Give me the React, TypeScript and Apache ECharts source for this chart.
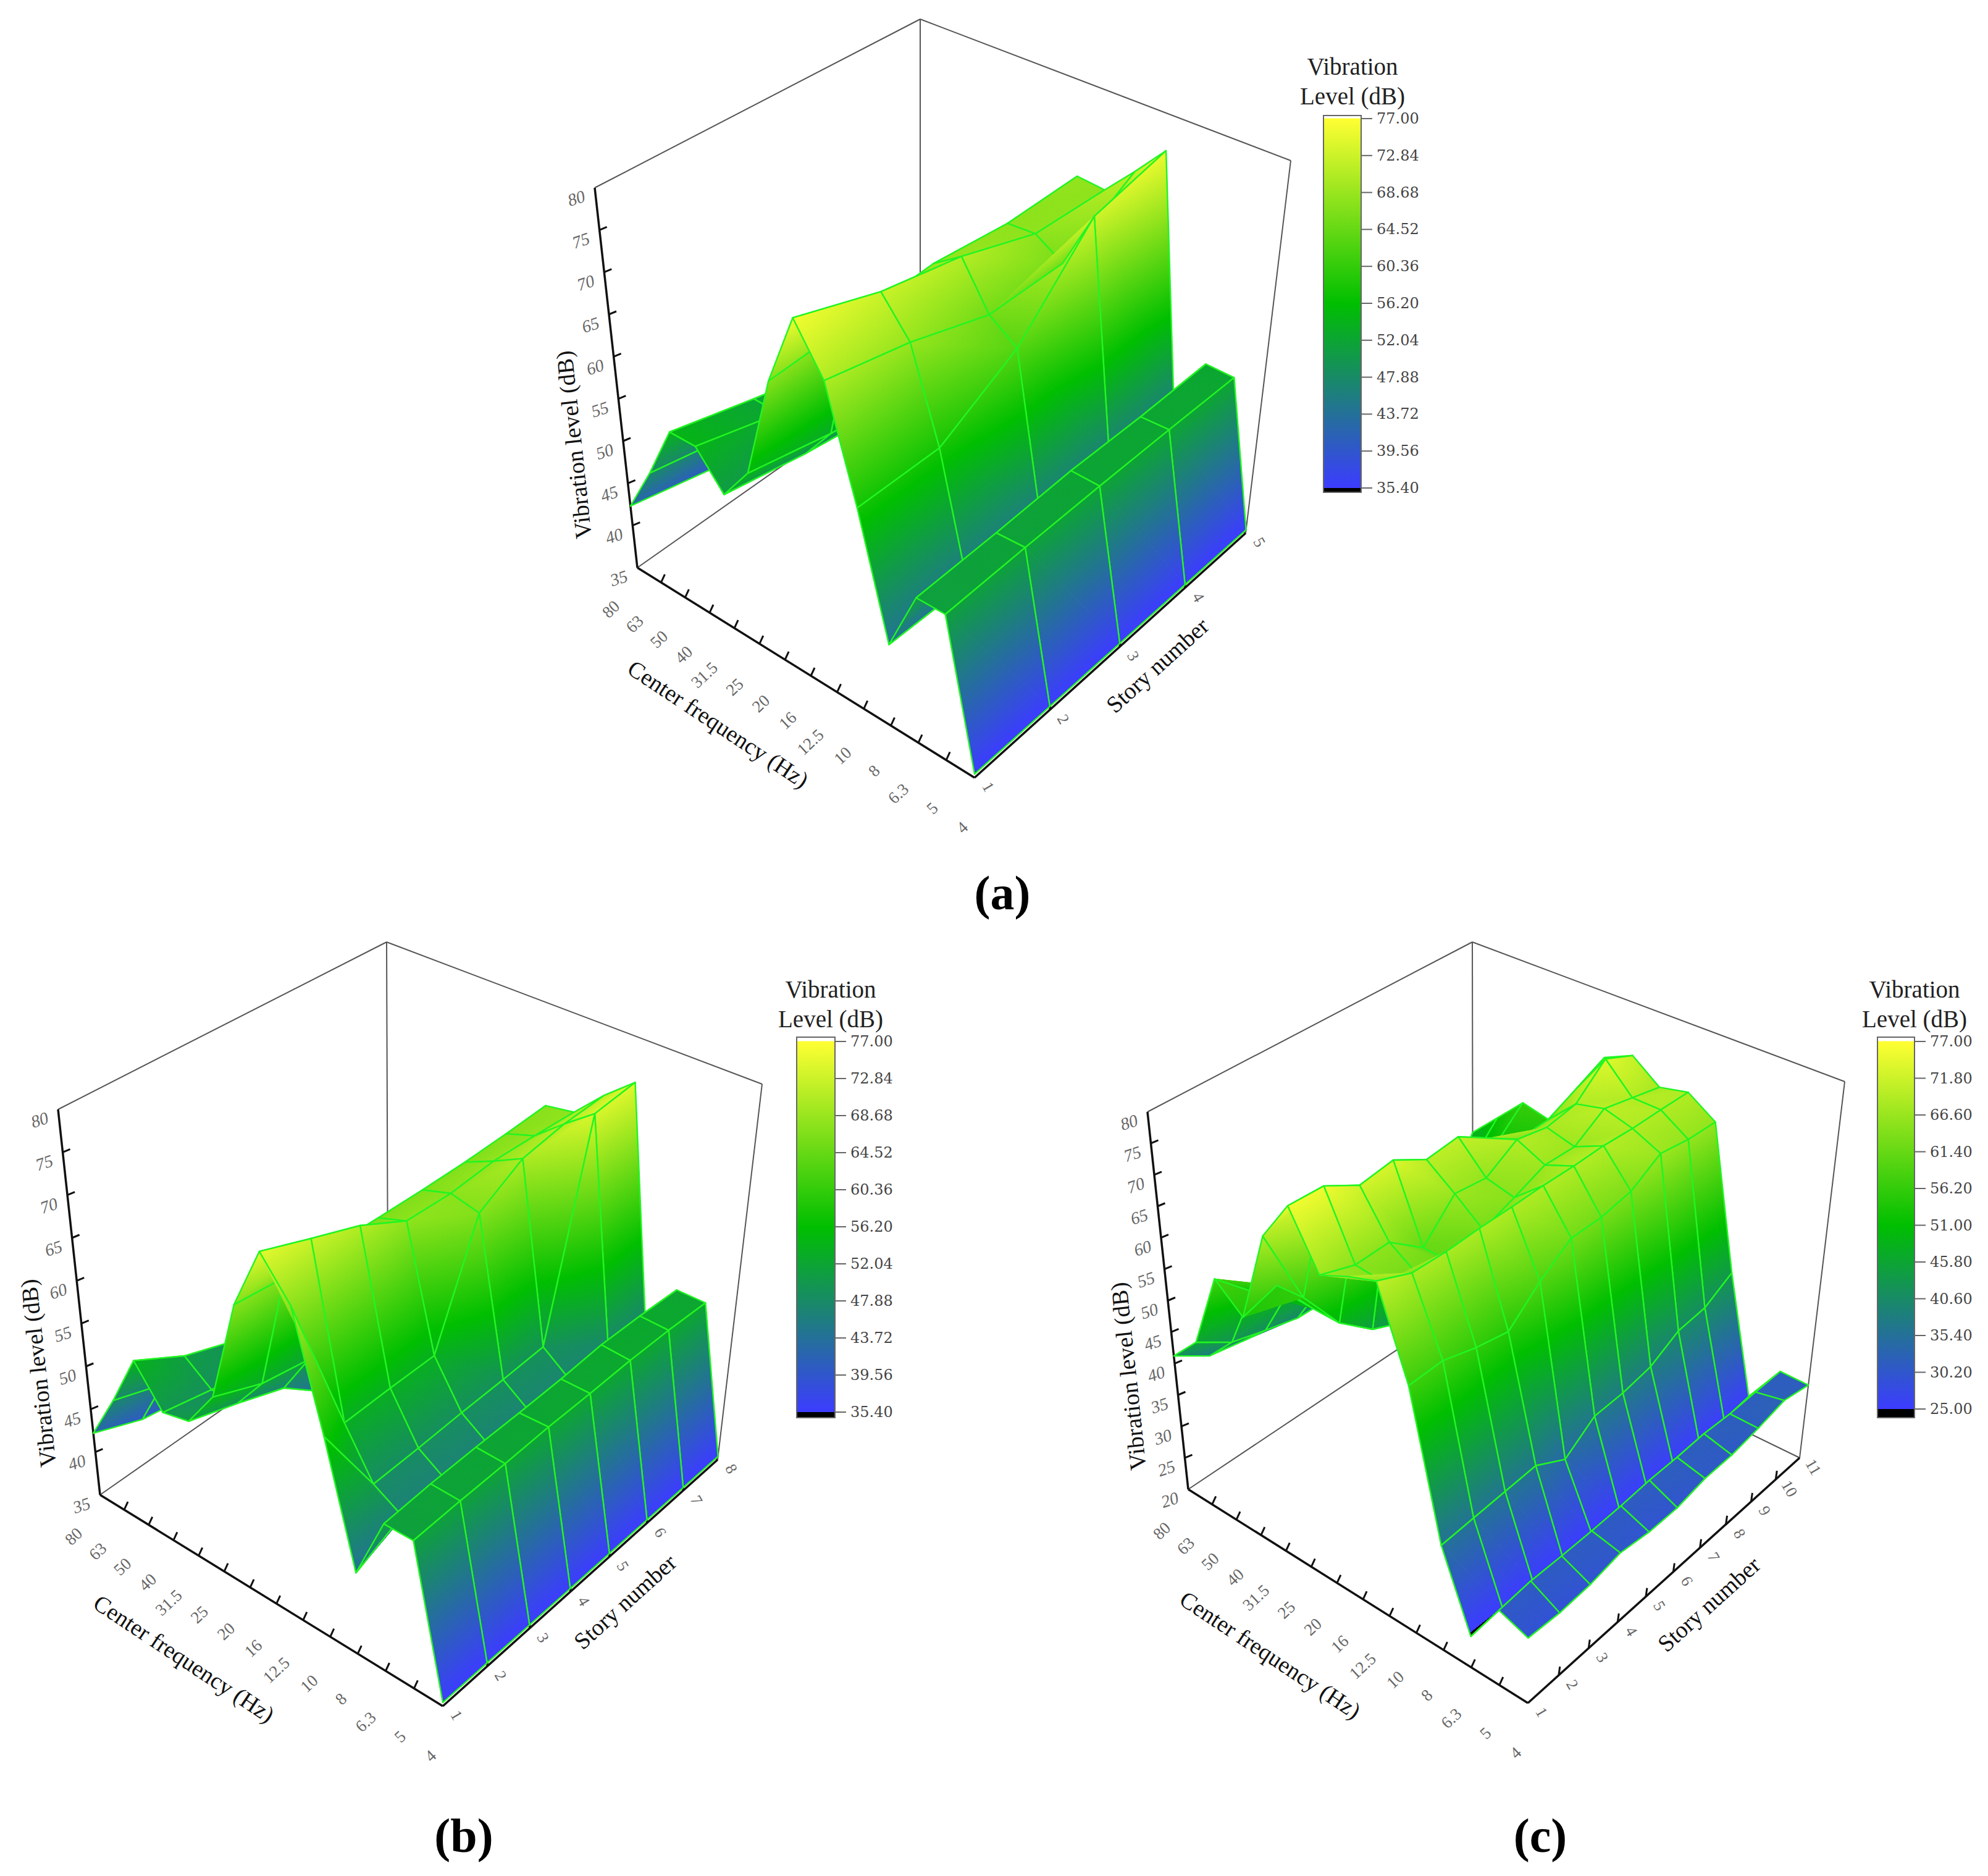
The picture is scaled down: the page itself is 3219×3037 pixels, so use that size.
import React, { useEffect, useRef } from "react";
import * as echarts from "echarts";

const freqLabels = ["80","63","50","40","31.5","25","20","16","12.5","10","8","6.3","5","4"];
const storiesA = ["1","2","3","4","5"];
const storiesB = ["1","2","3","4","5","6","7","8"];
const storiesC = ["1","2","3","4","5","6","7","8","9","10","11"];
const zTicksAB = [35,40,45,50,55,60,65,70,75,80];
const zTicksC = [20,25,30,35,40,45,50,55,60,65,70,75,80];
const barTicksAB = ["77.00","72.84","68.68","64.52","60.36","56.20","52.04","47.88","43.72","39.56","35.40"];
const barTicksC = ["77.00","71.80","66.60","61.40","56.20","51.00","45.80","40.60","35.40","30.20","25.00"];

const levelsA = [
  [42.3,40.3,39.1,38.3,38],
  [47.9,46.1,44.9,44.1,43.8],
  [54.4,52,49.8,48,47.7],
  [54.4,51.9,49.7,47.9,47.6],
  [50.5,48.8,47.6,46.8,46.5],
  [54.7,52.8,51.6,50.8,50.5],
  [67,67.7,68.5,67.7,68.1],
  [75.9,72.7,70.9,67.9,67.8],
  [70.4,68.4,65.5,65.8,71.5],
  [57.7,57.8,63.1,73,75.5],
  [44.1,43.9,44.7,45.9,46.6],
  [51.2,51.5,52,52,52.3],
  [51.2,51.6,51.9,52.1,52.2],
  [35.4,35.4,35.4,35.4,35.4],
];
const levelsB = [
  [42.2,40.1,39.2,39.1,39.2,39.3,39.6,40],
  [47.7,45.9,44.1,43,43,42.1,42.4,42.8],
  [54,50.9,49,47.9,46.9,47,47.3,47.7],
  [49.7,48.6,47.9,46.8,45.8,45.9,46.2,46.6],
  [50.4,48.7,46.8,42.7,43.7,44.8,45.1,45.5],
  [54.9,52.7,51.8,51.7,51.7,51.8,52.1,52.5],
  [67.1,66.6,66.7,66.6,66.6,66.7,67,67.4],
  [74.8,72.7,70.7,67.8,67.7,68.3,68.2,68],
  [70.4,53.3,53.5,53.6,66.9,70.1,71.1,71.5],
  [57.4,48.1,48.3,48.6,48.8,49.1,73.8,74.5],
  [44,46.3,46.3,46.5,46.6,46.8,47.2,47.6],
  [51.3,51.7,51.9,52,52.2,52.6,52.5,52.2],
  [51.3,51.6,51.8,52.1,52.2,52.4,52.4,52.2],
  [35.4,35.4,35.4,35.4,35.4,35.4,35.4,35.4],
];
const levelsC = [
  [41.2,37.9,37,36.4,35.7,36.4,30.9,29,31.3,39.6,48],
  [45.6,42.3,40.9,39.7,39.6,38.6,36.6,36.8,41,47.3,52.2],
  [57.8,52.5,48.9,46.6,44.5,42.5,42.5,42.7,46.9,52.2,56.5],
  [54,55.6,48.7,44.5,42.4,40.3,40.4,40.5,44.8,51,55.5],
  [68.8,55.9,48.6,44.3,42.2,40.2,42.2,42.4,46.6,50.9,55.3],
  [75.6,75.4,72.3,73.1,70.1,70.7,67.5,64.4,64.6,66.9,69.3],
  [67.1,65.3,65.5,61.4,66.7,66.1,69.2,68.2,69.1,73.6,71.4],
  [69.1,64.8,62.5,61.2,63.1,65,67.1,67,70.2,69.1,68],
  [70.6,68.4,68.3,68.6,68.7,68.9,68.9,69.1,68.9,69,69],
  [57.1,57.3,55.8,54.8,59.2,62.7,62.8,63.8,66.8,66.1,66],
  [35.6,35.9,36.2,36.5,33.9,37.1,37.3,38.1,40.5,41,43.5],
  [24.6,25,25,25,25,25,25,25,25.2,25.2,25.6],
  [31,31.4,31.3,31.3,31.4,31.7,31.7,31.9,31.6,31.7,31.7],
  [29.5,29.2,29.5,30.4,29.8,29.8,30.7,30.8,31.5,32.5,31.6],
];

type P = [number, number];
const panels = [
  {
    name: "(a)", levels: levelsA, stories: storiesA, zTicks: zTicksAB, barTicks: barTicksAB,
    zMin: 35, zMax: 80, cMin: 35.4, cMax: 77,
    A: [1032,919] as P, B: [1578,1259] as P, C: [2017,863] as P, D: [1490,597] as P,
    TL: [963,304] as P, TF: [1580,600] as P, TR: [2090,260] as P, TB: [1490,31] as P,
    vl: [929,720] as P, cf: [1163,1172] as P, sn: [1874,1077] as P, tag: [1623,1445] as P,
    bar: { x: 2143, y: 187, w: 61, h: 610, t0: 192, t1: 790 }, barTitleX: 2190, barTitleY: [107,155],
  },
  {
    name: "(b)", levels: levelsB, stories: storiesB, zTicks: zTicksAB, barTicks: barTicksAB,
    zMin: 35, zMax: 80, cMin: 35.4, cMax: 77,
    A: [162,2420] as P, B: [717,2762] as P, C: [1162,2363] as P, D: [628,2094] as P,
    TL: [94,1796] as P, TF: [720,2098] as P, TR: [1234,1755] as P, TB: [626,1525] as P,
    vl: [62,2223] as P, cf: [298,2685] as P, sn: [1012,2593] as P, tag: [751,2971] as P,
    bar: { x: 1290, y: 1679, w: 62, h: 616, t0: 1686, t1: 2286 }, barTitleX: 1345, barTitleY: [1601,1649],
  },
  {
    name: "(c)", levels: levelsC, stories: storiesC, zTicks: zTicksC, barTicks: barTicksC,
    zMin: 20, zMax: 80, cMin: 25, cMax: 77,
    A: [1924,2411] as P, B: [2474,2757] as P, C: [2914,2360] as P, D: [2385,2103] as P,
    TL: [1858,1800] as P, TF: [2476,2092] as P, TR: [2987,1751] as P, TB: [2384,1525] as P,
    vl: [1827,2228] as P, cf: [2057,2679] as P, sn: [2767,2597] as P, tag: [2494,2971] as P,
    bar: { x: 3040, y: 1679, w: 60, h: 616, t0: 1686, t1: 2281 }, barTitleX: 3100, barTitleY: [1601,1649],
  },
];

const YELLOW = [255,255,51], GREEN = [0,191,0], BLUE = [60,60,255];
const lerp = (a: number, b: number, t: number) => a + (b - a) * t;
const lerpP = (a: P, b: P, t: number): P => [lerp(a[0], b[0], t), lerp(a[1], b[1], t)];
const rgb = (c: number[]) => `rgb(${Math.round(c[0])},${Math.round(c[1])},${Math.round(c[2])})`;

const nearWarp = (t: number, k: number) => t / ((1 - t) * k + t);
function project(pn: any, u0: number, v0: number, w: number): P {
  const u = nearWarp(u0, 1.1);
  const v = 1 - nearWarp(1 - v0, 1.15);
  const bottom = lerpP(lerpP(pn.A, pn.B, u), lerpP(pn.D, pn.C, u), v);
  const top = lerpP(lerpP(pn.TL, pn.TF, u), lerpP(pn.TB, pn.TR, u), v);
  return lerpP(bottom, top, w);
}
function colorAt(pn: any, z: number): string {
  if (z < pn.cMin - 0.001) return "#000";
  const mid = (pn.cMin + pn.cMax) / 2;
  if (z >= pn.cMax) return rgb(YELLOW);
  if (z >= mid) {
    const t = (z - mid) / (pn.cMax - mid);
    return rgb(GREEN.map((g, k) => lerp(g, YELLOW[k], t)));
  }
  const t = Math.max(0, (z - pn.cMin) / (mid - pn.cMin));
  return rgb(BLUE.map((g, k) => lerp(g, GREEN[k], t)));
}
function triFill(pn: any, pts: P[], zs: number[]): any {
  const lo = Math.min(...zs), hi = Math.max(...zs);
  const x1 = pts[1][0] - pts[0][0], y1 = pts[1][1] - pts[0][1];
  const x2 = pts[2][0] - pts[0][0], y2 = pts[2][1] - pts[0][1];
  const det = x1 * y2 - x2 * y1;
  if (hi - lo < 0.02 || Math.abs(det) < 1e-3) return colorAt(pn, (lo + hi) / 2);
  const dz1 = zs[1] - zs[0], dz2 = zs[2] - zs[0];
  const gx = (dz1 * y2 - dz2 * y1) / det;
  const gy = (x1 * dz2 - x2 * dz1) / det;
  const g2 = gx * gx + gy * gy;
  const start = pts[zs.indexOf(lo)];
  const end: P = [start[0] + (gx * (hi - lo)) / g2, start[1] + (gy * (hi - lo)) / g2];
  const mid = (pn.cMin + pn.cMax) / 2;
  const vals = [lo, hi];
  [pn.cMin, mid, pn.cMax].forEach((m) => { if (m > lo && m < hi) vals.push(m); });
  vals.sort((a, b) => a - b);
  const stops = vals.map((v) => ({ offset: (v - lo) / (hi - lo), color: colorAt(pn, v) }));
  if (lo < pn.cMin && hi > pn.cMin) {
    stops.splice(1, 0, { offset: (pn.cMin - lo) / (hi - lo) - 0.0001, color: "#000" });
  }
  return new echarts.graphic.LinearGradient(start[0], start[1], end[0], end[1], stops, true);
}

function surfaceSeries(pn: any) {
  const rows = pn.levels.length, cols = pn.levels[0].length;
  const cells: number[][] = [];
  for (let r = 0; r < rows - 1; r++) for (let s = cols - 2; s >= 0; s--) cells.push([r, s]);
  const at = (r: number, s: number) => {
    const z = pn.levels[r][s];
    return { z, p: project(pn, r / (rows - 1), s / (cols - 1), (z - pn.zMin) / (pn.zMax - pn.zMin)) };
  };
  return {
    type: "custom", coordinateSystem: "none", silent: true, data: cells, animation: false,
    renderItem: (_: any, api: any) => {
      const r = api.value(0), s = api.value(1);
      const a = at(r, s), b = at(r + 1, s), c = at(r + 1, s + 1), d = at(r, s + 1);
      const tri = (x: any, y: any, z: any) => {
        const pts = [x.p, y.p, z.p];
        const fill = triFill(pn, pts, [x.z, y.z, z.z]);
        return { type: "polygon", shape: { points: pts }, style: { fill, stroke: fill, lineWidth: 1 }, silent: true };
      };
      return {
        type: "group",
        children: [
          tri(a, b, c), tri(a, c, d),
          { type: "polygon", shape: { points: [a.p, b.p, c.p, d.p] }, style: { fill: "none", stroke: "#22f522", lineWidth: 2.4, lineJoin: "round" }, silent: true },
        ],
      };
    },
  };
}

const SERIF = '"Liberation Serif", "Times New Roman", serif';
function line(a: P, b: P, stroke: string, lineWidth: number) {
  return { type: "line", shape: { x1: a[0], y1: a[1], x2: b[0], y2: b[1] }, style: { stroke, lineWidth }, silent: true };
}
function text(t: string, p: P, deg: number, font: string, fill: string, align = "center") {
  return {
    type: "text", x: p[0], y: p[1], rotation: (deg * Math.PI) / 180, silent: true,
    style: { text: t, x: 0, y: 0, font, fill, align, verticalAlign: "middle", textAlign: align, textVerticalAlign: "middle" },
  };
}

function panelGraphics(pn: any): any[] {
  const out: any[] = [];
  const thin = "#555", thick = "#111";
  [[pn.TL, pn.TB], [pn.TB, pn.TR], [pn.TR, pn.C], [pn.TB, pn.D], [pn.D, pn.A], [pn.D, pn.C]].forEach(([a, b]: any) => out.push(line(a, b, thin, 2)));
  [[pn.A, pn.TL], [pn.A, pn.B], [pn.B, pn.C]].forEach(([a, b]: any) => out.push(line(a, b, thick, 3.5)));
  const nF = freqLabels.length, nS = pn.stories.length;
  freqLabels.forEach((f, i) => {
    const t = i / (nF - 1);
    const p = project(pn, t, 0, 0);
    if (i > 0 && i < nF - 1) out.push(line(p, [p[0] + 6, p[1] - 13], thick, 3));
    out.push(text(f, [p[0] - 33 + 18 * t * t, p[1] + 58 + 18 * t * t], 43, `27px ${SERIF}`, "#666", "right"));
  });
  pn.stories.forEach((st: string, i: number) => {
    const p = project(pn, 1, i / (nS - 1), 0);
    if (i > 0 && i < nS - 1) out.push(line(p, [p[0] + 2, p[1] - 14], thick, 3));
    out.push(text(st, [p[0] + 22, p[1] + 15], -60, `26px ${SERIF}`, "#666"));
  });
  pn.zTicks.forEach((z: number) => {
    const w = (z - pn.zMin) / (pn.zMax - pn.zMin);
    const p = project(pn, 0, 0, w);
    if (z !== pn.zMin && z !== pn.zMax) out.push(line(p, [p[0] + 12, p[1] - 5], thick, 3));
    out.push(text(String(z), [p[0] - 30, p[1] + 17], 18, `italic 28px ${SERIF}`, "#666"));
  });
  out.push(text("Vibration level (dB)", pn.vl, 96, `38px ${SERIF}`, "#111"));
  out.push(text("Center frequency (Hz)", pn.cf, -33.5, `38px ${SERIF}`, "#111"));
  out.push(text("Story number", pn.sn, 42, `38px ${SERIF}`, "#111"));
  out.push(text(pn.name, pn.tag, 0, `bold 78px ${SERIF}`, "#000"));
  const b = pn.bar;
  out.push(text("Vibration", [pn.barTitleX, pn.barTitleY[0]], 0, `39px ${SERIF}`, "#222"));
  out.push(text("Level (dB)", [pn.barTitleX, pn.barTitleY[1]], 0, `39px ${SERIF}`, "#222"));
  out.push({
    type: "rect", shape: { x: b.x, y: b.y, width: b.w, height: b.h }, silent: true,
    style: {
      stroke: "#666", lineWidth: 2,
      fill: new echarts.graphic.LinearGradient(0, 0, 0, 1, [
        { offset: 0, color: "#fff" },
        { offset: (b.t0 - b.y - 1) / b.h, color: "#fff" },
        { offset: (b.t0 - b.y) / b.h, color: rgb(YELLOW) },
        { offset: ((b.t0 + b.t1) / 2 - b.y) / b.h, color: rgb(GREEN) },
        { offset: (b.t1 - b.y) / b.h, color: rgb(BLUE) },
        { offset: (b.t1 - b.y + 0.5) / b.h, color: "#000" },
        { offset: 1, color: "#000" },
      ]),
    },
  });
  pn.barTicks.forEach((t: string, i: number) => {
    const y = lerp(b.t0, b.t1, i / (pn.barTicks.length - 1));
    out.push(line([b.x + b.w, y], [b.x + b.w + 18, y], "#666", 2));
    out.push(text(t, [b.x + b.w + 25, y], 0, `24px "DejaVu Serif", serif`, "#444", "left"));
  });
  return out;
}

export default function App() {
  const ref = useRef<HTMLDivElement>(null);
  useEffect(() => {
    document.body.style.margin = "0";
    const chart = echarts.init(ref.current!, undefined, { renderer: "svg" });
    chart.setOption({
      animation: false,
      backgroundColor: "#fff",
      graphic: { elements: panels.flatMap(panelGraphics) },
      series: panels.map(surfaceSeries),
    });
    return () => chart.dispose();
  }, []);
  return <div ref={ref} style={{ width: 3219, height: 3037 }} />;
}
